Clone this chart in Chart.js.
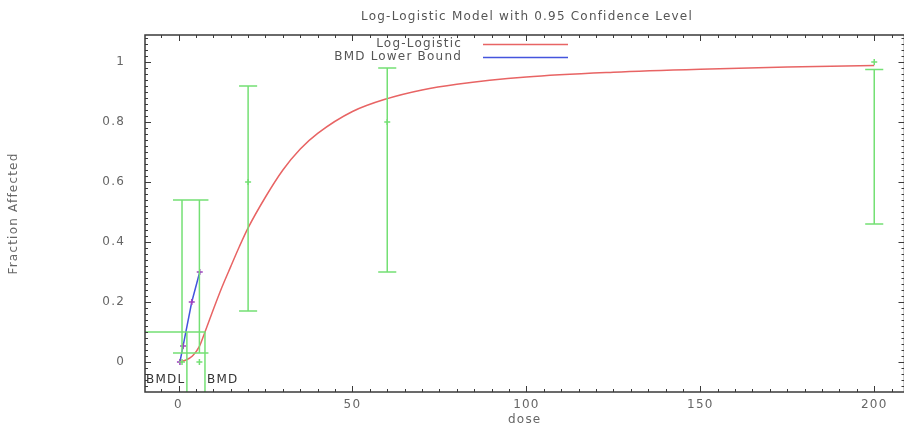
<!DOCTYPE html>
<html>
<head>
<meta charset="utf-8">
<script src="https://cdn.jsdelivr.net/npm/chart.js@4.4.1/dist/chart.umd.min.js"></script>
<style>
  html, body { margin: 0; padding: 0; background: #fff; overflow: hidden; }
</style>
</head>
<body>
<canvas id="chart" width="910" height="427"></canvas>
<script>
// Grupos de dosis: fracción afectada observada e intervalo de confianza 0.95
const doses = [1, 6, 20, 60, 200];
const fractions = [0, 0, 0.6, 0.8, 1.0];
const ciLower = [0.03, 0.03, 0.17, 0.30, 0.46];
const ciUpper = [0.54, 0.54, 0.92, 0.98, 0.975];

// Curva log-logística ajustada
const fitDose = [0.4, 2, 4, 6, 7.6, 10, 12.5, 15, 17.5, 20, 25, 30, 35, 40, 50, 60, 70, 80, 100, 125, 150, 175, 200];
const fitFrac = [0, 0.006, 0.02, 0.052, 0.1, 0.175, 0.25, 0.318, 0.385, 0.447, 0.55, 0.64, 0.71, 0.762, 0.835, 0.878, 0.907, 0.926, 0.95, 0.966, 0.976, 0.983, 0.988];

// Cota inferior de la BMD
const lowerDose = [0.4, 1.3, 3.8, 6.1];
const lowerFrac = [0, 0.053, 0.2, 0.3];

const bmrLevel = 0.1;
const bmdl = 2.4;
const bmd = 7.6;

const xTicks = [0, 50, 100, 150, 200];
const yTicks = [0, 0.2, 0.4, 0.6, 0.8, 1];

const X_MIN = -9.64, X_MAX = 208.7;
const Y_MIN = -0.1, Y_MAX = 1.09;

const COLOR_FIT = '#e86464';
const COLOR_LOWER = '#4455dd';
const COLOR_LOWER_PT = '#a040c0';
const COLOR_DATA = '#74e074';
const COLOR_AXIS = '#3a3a3a';
const COLOR_TEXT = '#666';
const FONT = 'DejaVu Sans';
const FONT_SIZE = 12;

// barras de error: vertical + dos topes, separados por huecos (y: null)
const CAP = 2.6;
const barPoints = [];
doses.forEach((d, i) => {
    barPoints.push({ x: d, y: ciLower[i] }, { x: d, y: ciUpper[i] }, { x: d, y: null });
    barPoints.push({ x: d - CAP, y: ciUpper[i] }, { x: d + CAP, y: ciUpper[i] }, { x: d, y: null });
    barPoints.push({ x: d - CAP, y: ciLower[i] }, { x: d + CAP, y: ciLower[i] }, { x: d, y: null });
});

const bmdPoints = [
    { x: X_MIN, y: bmrLevel }, { x: bmd, y: bmrLevel }, { x: bmd, y: Y_MIN }, { x: bmd, y: null },
    { x: bmdl, y: bmrLevel }, { x: bmdl, y: Y_MIN }
];

const xy = (xs, ys) => xs.map((v, i) => ({ x: v, y: ys[i] }));

// marcas de escala hacia dentro, en los cuatro lados, y el texto fijo
const decor = {
    id: 'decor',
    beforeDraw(chart) {
        chart.ctx.letterSpacing = '1.2px';
    },
    afterDraw(chart) {
        const { ctx, chartArea: a, scales: { x, y } } = chart;
        ctx.save();
        ctx.strokeStyle = COLOR_AXIS;
        ctx.lineWidth = 1;
        ctx.beginPath();
        for (let k = -1; k <= 41; k++) {
            const px = Math.round(x.getPixelForValue(k * 5)) + 0.5;
            const len = k % 10 === 0 ? 6 : 3;
            ctx.moveTo(px, a.bottom); ctx.lineTo(px, a.bottom - len);
            ctx.moveTo(px, a.top); ctx.lineTo(px, a.top + len);
        }
        for (let k = -4; k <= 54; k++) {
            const py = Math.round(y.getPixelForValue(k * 0.02)) + 0.5;
            const len = k % 10 === 0 ? 6 : 3;
            ctx.moveTo(a.left, py); ctx.lineTo(a.left + len, py);
            ctx.moveTo(a.right, py); ctx.lineTo(a.right - len, py);
        }
        ctx.stroke();
        ctx.lineWidth = 1.5;
        ctx.strokeRect(a.left, a.top, a.right - a.left, a.bottom - a.top);

        // título
        ctx.fillStyle = '#555';
        ctx.font = `${FONT_SIZE}px "${FONT}"`;
        ctx.textAlign = 'center';
        ctx.textBaseline = 'middle';
        ctx.fillText('Log-Logistic Model with 0.95 Confidence Level', 527, 17);

        // leyenda
        ctx.textAlign = 'right';
        ctx.fillText('Log-Logistic', 462, 44);
        ctx.fillText('BMD Lower Bound', 462, 57);
        ctx.lineWidth = 1.5;
        ctx.strokeStyle = COLOR_FIT;
        ctx.beginPath(); ctx.moveTo(483, 44.5); ctx.lineTo(568, 44.5); ctx.stroke();
        ctx.strokeStyle = COLOR_LOWER;
        ctx.beginPath(); ctx.moveTo(483, 57.5); ctx.lineTo(568, 57.5); ctx.stroke();

        // etiquetas BMDL / BMD
        ctx.fillStyle = '#333';
        ctx.textAlign = 'left';
        const ly = y.getPixelForValue(-0.06);
        ctx.fillText('BMDL', a.left + 1, ly);
        ctx.fillText('BMD', x.getPixelForValue(bmd) + 2, ly);
        ctx.restore();
    }
};

const tickFont = { family: FONT, size: FONT_SIZE };

new Chart(document.getElementById('chart'), {
    type: 'line',
    data: {
        datasets: [
            {
                data: bmdPoints,
                borderColor: COLOR_DATA,
                borderWidth: 1.5,
                pointRadius: 0
            },
            {
                data: barPoints,
                borderColor: COLOR_DATA,
                borderWidth: 1.5,
                pointRadius: 0
            },
            {
                data: xy(doses, fractions),
                showLine: false,
                pointStyle: 'cross',
                pointRadius: 3,
                borderColor: COLOR_DATA,
                borderWidth: 1.5
            },
            {
                label: 'Log-Logistic',
                data: xy(fitDose, fitFrac),
                borderColor: COLOR_FIT,
                borderWidth: 1.5,
                cubicInterpolationMode: 'monotone',
                pointRadius: 0
            },
            {
                label: 'BMD Lower Bound',
                data: xy(lowerDose, lowerFrac),
                borderColor: COLOR_LOWER,
                borderWidth: 1.5,
                pointStyle: 'cross',
                pointRadius: 3,
                pointBorderColor: COLOR_LOWER_PT
            }
        ]
    },
    options: {
        responsive: false,
        animation: false,
        devicePixelRatio: 1,
        layout: { padding: { top: 35, right: 4, left: 0, bottom: 0 } },
        plugins: {
            legend: { display: false },
            title: { display: false },
            tooltip: { enabled: false }
        },
        scales: {
            x: {
                type: 'linear',
                min: X_MIN,
                max: X_MAX,
                afterBuildTicks: (s) => { s.ticks = xTicks.map(v => ({ value: v })); },
                afterFit: (s) => { s.height = 35; },
                grid: { display: false, drawTicks: false },
                border: { display: false },
                ticks: {
                    color: COLOR_TEXT,
                    font: tickFont,
                    padding: 6,
                    maxRotation: 0,
                    autoSkip: false,
                    callback: (v) => String(v)
                },
                title: {
                    display: true,
                    text: 'dose',
                    color: COLOR_TEXT,
                    font: tickFont,
                    padding: { top: 0, bottom: 0 }
                }
            },
            y: {
                min: Y_MIN,
                max: Y_MAX,
                afterBuildTicks: (s) => { s.ticks = yTicks.map(v => ({ value: v })); },
                afterFit: (s) => { s.width = 145; },
                grid: { display: false, drawTicks: false },
                border: { display: false },
                ticks: {
                    color: COLOR_TEXT,
                    font: tickFont,
                    padding: 20,
                    callback: (v) => String(v)
                },
                title: {
                    display: true,
                    text: 'Fraction Affected',
                    color: COLOR_TEXT,
                    font: tickFont,
                    padding: { top: 7, bottom: 0 }
                }
            }
        }
    },
    plugins: [decor]
});
</script>
</body>
</html>
